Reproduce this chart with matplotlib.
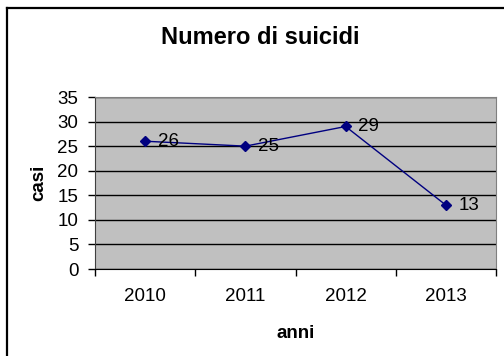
import matplotlib.pyplot as plt
from matplotlib.lines import Line2D

plt.rcParams['font.family'] = ['Liberation Sans', 'DejaVu Sans']

# Data
anni = ['2010', '2011', '2012', '2013']
casi = [26, 25, 29, 13]
y_ticks = [0, 5, 10, 15, 20, 25, 30, 35]

fig = plt.figure(figsize=(5.04, 3.56), dpi=100)
ax = fig.add_axes([95 / 504, 1 - 269 / 356, 401 / 504, 172 / 356])
ax.set_facecolor('#c0c0c0')

x = list(range(len(anni)))
ax.plot(x, casi, color='#000080', lw=1, marker='D', markersize=5.5,
        zorder=3, clip_on=False)
for xi, v in zip(x, casi):
    ax.annotate(str(v), (xi, v), xytext=(9, 0), textcoords='offset points',
                va='center', ha='left', fontsize=13.5)

ax.set_xlim(-0.5, len(anni) - 0.5)
ax.set_ylim(0, 35)
ax.set_yticks(y_ticks)
ax.set_yticklabels([str(t) for t in y_ticks], fontsize=13.5)
ax.yaxis.grid(True, color='black', lw=1)
ax.set_axisbelow(True)

# categories sit between the tick marks
ax.set_xticks([i - 0.5 for i in range(len(anni) + 1)])
ax.set_xticklabels([])
ax.set_xticks(x, minor=True)
ax.set_xticklabels(anni, minor=True, fontsize=13.5)
ax.tick_params(axis='x', which='major', length=5, width=1, direction='out')
ax.tick_params(axis='x', which='minor', length=0, pad=14)
ax.tick_params(axis='y', length=5, width=1, direction='out', pad=7)

for side in ['top', 'right']:
    ax.spines[side].set_color('#808080')
ax.spines['left'].set_color('#404040')
ax.spines['bottom'].set_color('black')

ax.set_xlabel('anni', fontsize=13.5, fontweight='bold', labelpad=14)
ax.set_ylabel('casi', fontsize=13.5, fontweight='bold', labelpad=7)

fig.text(260 / 504, 1 - 38 / 356, 'Numero di suicidi', ha='center', va='center',
         fontsize=17, fontweight='bold')

# chart frame, only top and left edges visible
fig.add_artist(Line2D([7 / 504, 7 / 504], [0, 1 - 8 / 356], color='black', lw=1.6,
                      transform=fig.transFigure))
fig.add_artist(Line2D([7 / 504, 1.01], [1 - 8 / 356, 1 - 8 / 356], color='black', lw=1.6,
                      transform=fig.transFigure))

fig.savefig('out.png', dpi=100)
